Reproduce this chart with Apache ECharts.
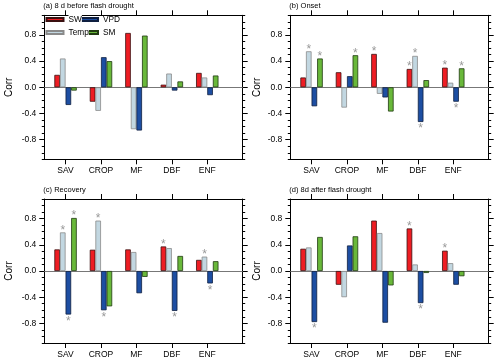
<!DOCTYPE html>
<html>
<head>
<meta charset="utf-8">
<script src="https://cdn.jsdelivr.net/npm/echarts@6/dist/echarts.min.js"></script>
<style>html,body{margin:0;padding:0;background:#fff;}#c{width:500px;height:364px;}</style>
</head>
<body>
<div id="c"></div>
<script>
const categories = ['SAV', 'CROP', 'MF', 'DBF', 'ENF'];
const varNames = ['SW', 'Temp', 'VPD', 'SM'];
const panelTitles = ['(a) 8 d before flash drought', '(b) Onset', '(c) Recovery', '(d) 8d after flash drought'];
const yTickLabels = [-0.8, -0.4, 0.0, 0.4, 0.8];

// (a) 8 d before flash drought
const a_SW   = [0.19, -0.22, 0.83, 0.04, 0.22];
const a_Temp = [0.44, -0.36, -0.64, 0.21, 0.15];
const a_VPD  = [-0.27, 0.46, -0.66, -0.05, -0.12];
const a_SM   = [-0.05, 0.40, 0.79, 0.09, 0.18];
// (b) Onset
const b_SW   = [0.15, 0.23, 0.51, 0.28, 0.30];
const b_Temp = [0.55, -0.31, -0.10, 0.48, 0.07];
const b_VPD  = [-0.29, 0.17, -0.155, -0.53, -0.22];
const b_SM   = [0.44, 0.49, -0.37, 0.11, 0.29];
// (c) Recovery
const c_SW   = [0.33, 0.325, 0.33, 0.375, 0.17];
const c_Temp = [0.59, 0.77, 0.29, 0.35, 0.22];
const c_VPD  = [-0.665, -0.60, -0.34, -0.61, -0.19];
const c_SM   = [0.81, -0.54, -0.09, 0.23, 0.15];
// (d) 8d after flash drought
const d_SW   = [0.34, -0.21, 0.77, 0.65, 0.31];
const d_Temp = [0.36, -0.40, 0.58, 0.10, 0.12];
const d_VPD  = [-0.78, 0.39, -0.79, -0.49, -0.21];
const d_SM   = [0.52, 0.53, -0.22, -0.03, -0.08];

// significance flags (asterisks)
const a_SW_sig = [0,0,0,0,0], a_Temp_sig = [0,0,0,0,0], a_VPD_sig = [0,0,0,0,0], a_SM_sig = [0,0,0,0,0];
const b_SW_sig = [0,0,1,1,1], b_Temp_sig = [1,0,0,1,0], b_VPD_sig = [0,0,0,1,1], b_SM_sig = [1,1,0,0,1];
const c_SW_sig = [0,0,0,1,0], c_Temp_sig = [1,1,0,0,1], c_VPD_sig = [1,1,0,1,1], c_SM_sig = [1,0,0,0,0];
const d_SW_sig = [0,0,0,1,1], d_Temp_sig = [0,0,0,0,0], d_VPD_sig = [1,0,0,1,0], d_SM_sig = [0,0,0,0,0];

const panelValues = [
  [a_SW, a_Temp, a_VPD, a_SM],
  [b_SW, b_Temp, b_VPD, b_SM],
  [c_SW, c_Temp, c_VPD, c_SM],
  [d_SW, d_Temp, d_VPD, d_SM]
];
const panelSig = [
  [a_SW_sig, a_Temp_sig, a_VPD_sig, a_SM_sig],
  [b_SW_sig, b_Temp_sig, b_VPD_sig, b_SM_sig],
  [c_SW_sig, c_Temp_sig, c_VPD_sig, c_SM_sig],
  [d_SW_sig, d_Temp_sig, d_VPD_sig, d_SM_sig]
];

const FONT = 'Liberation Sans, Arial, Helvetica, sans-serif';
const colors = ['#ee1d23', '#c2d7e1', '#1d4ea2', '#69b83a'];
const borders = ['#3a1010', '#8a8a8a', '#0f1f40', '#203a10'];

const gridPos = [
  {left: 44.3, top: 15.3},
  {left: 290.3, top: 15.3},
  {left: 44.3, top: 199},
  {left: 290.3, top: 199}
];
const GW = 198.4, GH = 144;
const catPos = categories.map((c, i) => i + 1);
const minorTicks = [];
for (let i = -11; i <= 11; i++) minorTicks.push(i / 10);

const grids = [], xAxes = [], yAxes = [], series = [], titles = [];
gridPos.forEach((g, k) => {
  grids.push({left: g.left, top: g.top, width: GW, height: GH, containLabel: false});
  titles.push({
    text: panelTitles[k], left: g.left - 1, top: g.top - 13, padding: 0,
    textStyle: {fontSize: 7.5, fontWeight: 'normal', color: '#000', fontFamily: FONT}
  });
  const lineStyle = {color: '#000', width: 1};
  xAxes.push({
    type: 'value', gridIndex: k, position: 'bottom', min: 0.4, max: 6.0,
    splitLine: {show: false},
    axisLine: {show: true, onZero: false, lineStyle},
    axisTick: {show: true, inside: false, length: 5, customValues: catPos, lineStyle},
    axisLabel: {show: true, margin: 7, customValues: catPos, fontSize: 8.5, color: '#000', fontFamily: FONT,
      formatter: v => categories[Math.round(v) - 1] || ''}
  });
  xAxes.push({
    type: 'value', gridIndex: k, position: 'top', min: 0.4, max: 6.0,
    splitLine: {show: false},
    axisLine: {show: true, onZero: false, lineStyle},
    axisTick: {show: true, inside: false, length: 5, customValues: catPos, lineStyle},
    axisLabel: {show: false}
  });
  yAxes.push({
    type: 'value', gridIndex: k, position: 'left', min: -1.1, max: 1.1,
    name: 'Corr', nameLocation: 'middle', nameGap: (k % 2 === 0 ? 30 : 28),
    nameTextStyle: {fontSize: 10, color: '#000', fontFamily: FONT},
    splitLine: {show: false},
    axisLine: {show: true, onZero: false, lineStyle},
    axisTick: {show: true, inside: false, length: 5, customValues: yTickLabels, lineStyle},
    axisLabel: {show: true, margin: 8, customValues: yTickLabels, fontSize: 8.5, color: '#000', fontFamily: FONT,
      formatter: v => v.toFixed(1)}
  });
  yAxes.push({
    type: 'value', gridIndex: k, position: 'left', min: -1.1, max: 1.1,
    splitLine: {show: false}, axisLine: {show: false, onZero: false},
    axisTick: {show: true, inside: false, length: 2.5, customValues: minorTicks, lineStyle},
    axisLabel: {show: false}
  });
  yAxes.push({
    type: 'value', gridIndex: k, position: 'right', min: -1.1, max: 1.1,
    splitLine: {show: false},
    axisLine: {show: true, onZero: false, lineStyle},
    axisTick: {show: true, inside: false, length: 5, customValues: yTickLabels, lineStyle},
    axisLabel: {show: false}
  });
  yAxes.push({
    type: 'value', gridIndex: k, position: 'right', min: -1.1, max: 1.1,
    splitLine: {show: false}, axisLine: {show: false, onZero: false},
    axisTick: {show: true, inside: false, length: 2.5, customValues: minorTicks, lineStyle},
    axisLabel: {show: false}
  });

  varNames.forEach((vn, j) => {
    const vals = panelValues[k][j], sig = panelSig[k][j];
    const s = {
      name: vn, type: 'bar', xAxisIndex: 2 * k, yAxisIndex: 4 * k,
      barWidth: 5.6, barGap: 0,
      itemStyle: {color: colors[j], borderColor: borders[j], borderWidth: 0.8},
      emphasis: {disabled: true},
      data: vals.map((v, i) => ({
        value: [catPos[i], v],
        label: {
          show: !!sig[i], formatter: '*', position: v >= 0 ? 'top' : 'bottom',
          distance: v >= 0 ? -4 : 1,
          color: '#999', fontSize: 12, lineHeight: 12, fontFamily: FONT
        }
      }))
    };
    if (j === 0) {
      s.markLine = {
        silent: true, symbol: 'none', label: {show: false},
        lineStyle: {color: '#777', width: 1, type: 'solid'},
        data: [{yAxis: 0}], z: 1
      };
    }
    series.push(s);
  });
});

const legendCommon = {
  orient: 'vertical', padding: 0, itemWidth: 17, itemHeight: 3, itemGap: 3, icon: 'rect',
  selectedMode: false
};

const option = {
  animation: false,
  backgroundColor: '#fff',
  title: titles,
  grid: grids,
  xAxis: xAxes,
  yAxis: yAxes,
  legend: [
    Object.assign({data: ['SW', 'Temp'], left: 45.5, top: 14.5, z: 6,
      textStyle: {fontSize: 8.3, color: '#000', fontFamily: FONT, lineHeight: 10, backgroundColor: '#fff'}}, legendCommon),
    Object.assign({data: ['VPD', 'SM'], left: 80, top: 14.5, z: 5,
      textStyle: {fontSize: 8.3, color: '#000', fontFamily: FONT, lineHeight: 10}}, legendCommon)
  ],
  series: series
};
const chart = echarts.init(document.getElementById('c'), null, {renderer: 'canvas'});
chart.setOption(option);
</script>
</body>
</html>
